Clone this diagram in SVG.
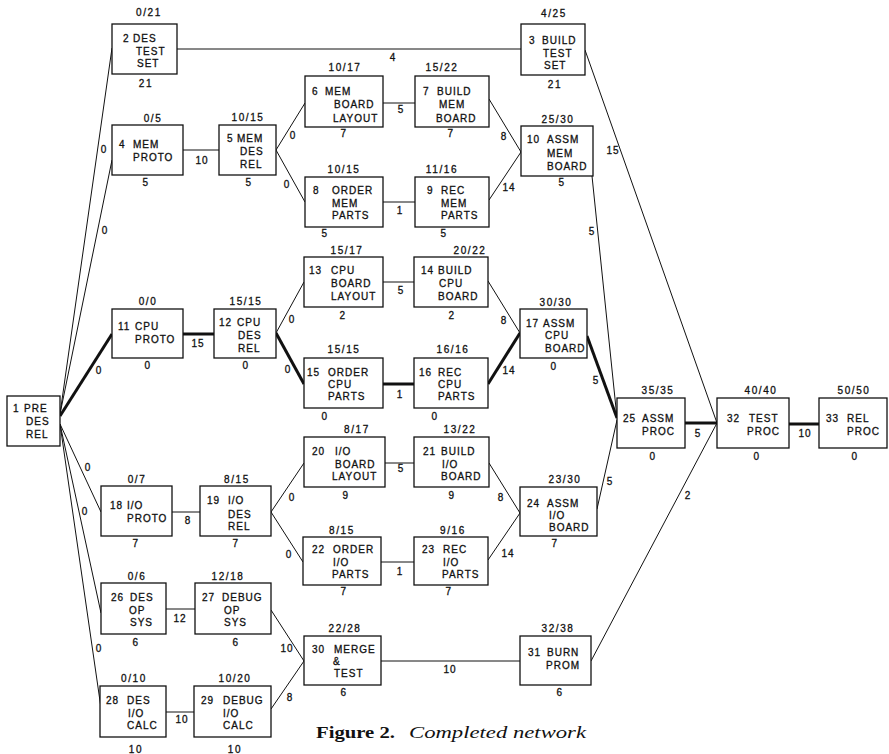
<svg xmlns="http://www.w3.org/2000/svg" width="889" height="754" viewBox="0 0 889 754">
  <style>
    .bg { fill: #ffffff; }
    .box rect { fill: #ffffff; stroke: #111; stroke-width: 1.3; }
    .t { font-family: "Liberation Sans", Arial, sans-serif; font-size: 10px; letter-spacing: 1px; fill: #111; stroke: #111; stroke-width: 0.3; }
    .n { font-family: "Liberation Sans", Arial, sans-serif; font-size: 10px; letter-spacing: 1.6px; fill: #111; stroke: #111; stroke-width: 0.3; text-anchor: middle; }
    .w { font-family: "Liberation Sans", Arial, sans-serif; font-size: 10px; letter-spacing: 1px; fill: #111; stroke: #111; stroke-width: 0.3; text-anchor: middle; }
    #connectors line { stroke: #111; stroke-width: 1; fill: none; }
    #connectors line.crit { stroke-width: 3; }
    .cap { font-family: "Liberation Serif", "Times New Roman", serif; font-size: 17px; fill: #111; }
  </style>
  <rect class="bg" x="0" y="0" width="889" height="754"/>

  <!-- activity links; heavy lines mark the critical path -->
  <g id="connectors">
    <line x1="60" y1="414" x2="112" y2="48"/>
    <line x1="60" y1="414" x2="112" y2="160"/>
    <line class="crit" x1="60" y1="416" x2="112" y2="334"/>
    <line x1="60" y1="424" x2="101" y2="512"/>
    <line x1="60" y1="424" x2="101" y2="613"/>
    <line x1="60" y1="424" x2="101" y2="708"/>
    <line x1="177" y1="49" x2="521" y2="49"/>
    <line x1="585" y1="50" x2="717" y2="423"/>
    <line x1="183" y1="150" x2="219" y2="150"/>
    <line x1="276" y1="150" x2="305" y2="103"/>
    <line x1="276" y1="150" x2="305" y2="202"/>
    <line x1="383" y1="103" x2="415" y2="103"/>
    <line x1="383" y1="202" x2="415" y2="202"/>
    <line x1="489" y1="99" x2="521" y2="152"/>
    <line x1="489" y1="200" x2="521" y2="152"/>
    <line x1="592" y1="176" x2="617" y2="418"/>
    <line class="crit" x1="183" y1="334" x2="214" y2="334"/>
    <line x1="276" y1="333" x2="304" y2="282"/>
    <line class="crit" x1="276" y1="333" x2="304" y2="384"/>
    <line x1="383" y1="282" x2="414" y2="282"/>
    <line class="crit" x1="383" y1="384" x2="414" y2="384"/>
    <line x1="488" y1="281" x2="520" y2="333"/>
    <line class="crit" x1="488" y1="384" x2="520" y2="333"/>
    <line class="crit" x1="587" y1="336" x2="617" y2="418"/>
    <line x1="597" y1="509" x2="617" y2="420"/>
    <line class="crit" x1="685" y1="423" x2="717" y2="423"/>
    <line class="crit" x1="789" y1="424" x2="819" y2="424"/>
    <line x1="591" y1="661" x2="717" y2="423"/>
    <line x1="172" y1="512" x2="200" y2="512"/>
    <line x1="271" y1="512" x2="304" y2="463"/>
    <line x1="271" y1="512" x2="303" y2="562"/>
    <line x1="385" y1="463" x2="414" y2="463"/>
    <line x1="489" y1="463" x2="520" y2="513"/>
    <line x1="488" y1="560" x2="520" y2="513"/>
    <line x1="381" y1="562" x2="414" y2="562"/>
    <line x1="166" y1="609" x2="195" y2="609"/>
    <line x1="166" y1="712" x2="194" y2="712"/>
    <line x1="271" y1="610" x2="304" y2="661"/>
    <line x1="271" y1="709" x2="304" y2="661"/>
    <line x1="381" y1="661" x2="520" y2="661"/>
  </g>

  <!-- durations on the links -->
  <g id="link-labels">
    <text class="w" x="104" y="153">0</text>
    <text class="w" x="105" y="234">0</text>
    <text class="w" x="99" y="374">0</text>
    <text class="w" x="88" y="471">0</text>
    <text class="w" x="85" y="515">0</text>
    <text class="w" x="99" y="652">0</text>
    <text class="w" x="393" y="61">4</text>
    <text class="w" x="613" y="154">15</text>
    <text class="w" x="202" y="164">10</text>
    <text class="w" x="293" y="139">0</text>
    <text class="w" x="287" y="188">0</text>
    <text class="w" x="401" y="113">5</text>
    <text class="w" x="400" y="214">1</text>
    <text class="w" x="504" y="140">8</text>
    <text class="w" x="509" y="191">14</text>
    <text class="w" x="592" y="235">5</text>
    <text class="w" x="198" y="347">15</text>
    <text class="w" x="292" y="323">0</text>
    <text class="w" x="288" y="373">0</text>
    <text class="w" x="401" y="294">5</text>
    <text class="w" x="400" y="398">1</text>
    <text class="w" x="504" y="324">8</text>
    <text class="w" x="509" y="374">14</text>
    <text class="w" x="596" y="384">5</text>
    <text class="w" x="610" y="485">5</text>
    <text class="w" x="698" y="437">5</text>
    <text class="w" x="805" y="437">10</text>
    <text class="w" x="688" y="499">2</text>
    <text class="w" x="188" y="524">8</text>
    <text class="w" x="292" y="501">0</text>
    <text class="w" x="289" y="558">0</text>
    <text class="w" x="401" y="472">5</text>
    <text class="w" x="501" y="501">8</text>
    <text class="w" x="508" y="557">14</text>
    <text class="w" x="400" y="575">1</text>
    <text class="w" x="180" y="622">12</text>
    <text class="w" x="182" y="723">10</text>
    <text class="w" x="287" y="652">10</text>
    <text class="w" x="290" y="701">8</text>
    <text class="w" x="450" y="673">10</text>
  </g>

  <!-- activities -->
  <g id="n1" class="box">
    <rect x="7" y="396" width="53" height="50"/>
    <text class="t"><tspan x="13" y="412">1</tspan><tspan x="24" y="412">PRE</tspan><tspan x="26" y="425">DES</tspan><tspan x="26" y="438">REL</tspan></text>
  </g>
  <g id="n2" class="box">
    <rect x="112" y="24" width="65" height="50"/>
    <text class="n" x="149" y="16">0/21</text>
    <text class="n" x="146" y="87">21</text>
    <text class="t"><tspan x="123" y="42">2</tspan><tspan x="133" y="42">DES</tspan><tspan x="136" y="54.5">TEST</tspan><tspan x="137" y="67">SET</tspan></text>
  </g>
  <g id="n3" class="box">
    <rect x="521" y="24" width="64" height="51"/>
    <text class="n" x="554" y="17">4/25</text>
    <text class="n" x="555" y="88">21</text>
    <text class="t"><tspan x="529" y="44">3</tspan><tspan x="542" y="44">BUILD</tspan><tspan x="543" y="56.5">TEST</tspan><tspan x="544" y="69">SET</tspan></text>
  </g>
  <g id="n4" class="box">
    <rect x="112" y="125" width="71" height="50"/>
    <text class="n" x="153" y="122">0/5</text>
    <text class="n" x="146" y="186">5</text>
    <text class="t"><tspan x="119" y="148">4</tspan><tspan x="133" y="148">MEM</tspan><tspan x="133" y="161">PROTO</tspan></text>
  </g>
  <g id="n5" class="box">
    <rect x="219" y="125" width="57" height="50"/>
    <text class="n" x="248" y="121">10/15</text>
    <text class="n" x="249" y="186">5</text>
    <text class="t"><tspan x="227" y="142">5</tspan><tspan x="237" y="142">MEM</tspan><tspan x="240" y="155">DES</tspan><tspan x="240" y="168">REL</tspan></text>
  </g>
  <g id="n6" class="box">
    <rect x="305" y="76" width="78" height="51"/>
    <text class="n" x="345" y="71">10/17</text>
    <text class="n" x="344" y="137">7</text>
    <text class="t"><tspan x="312" y="95">6</tspan><tspan x="325" y="95">MEM</tspan><tspan x="334" y="108">BOARD</tspan><tspan x="333" y="121.5">LAYOUT</tspan></text>
  </g>
  <g id="n7" class="box">
    <rect x="415" y="76" width="74" height="51"/>
    <text class="n" x="442" y="71">15/22</text>
    <text class="n" x="451" y="137">7</text>
    <text class="t"><tspan x="423" y="95">7</tspan><tspan x="437" y="95">BUILD</tspan><tspan x="439" y="108">MEM</tspan><tspan x="436" y="121.5">BOARD</tspan></text>
  </g>
  <g id="n8" class="box">
    <rect x="305" y="177" width="78" height="50"/>
    <text class="n" x="344" y="172.5">10/15</text>
    <text class="n" x="325" y="237">5</text>
    <text class="t"><tspan x="313" y="194">8</tspan><tspan x="332" y="194">ORDER</tspan><tspan x="332" y="206.5">MEM</tspan><tspan x="332" y="219">PARTS</tspan></text>
  </g>
  <g id="n9" class="box">
    <rect x="415" y="177" width="74" height="50"/>
    <text class="n" x="442" y="172.5">11/16</text>
    <text class="n" x="444" y="237">5</text>
    <text class="t"><tspan x="427" y="194">9</tspan><tspan x="441" y="194">REC</tspan><tspan x="441" y="206.5">MEM</tspan><tspan x="441" y="219">PARTS</tspan></text>
  </g>
  <g id="n10" class="box">
    <rect x="521" y="126" width="72" height="50"/>
    <text class="n" x="558" y="122.5">25/30</text>
    <text class="n" x="562" y="186">5</text>
    <text class="t"><tspan x="527" y="143">10</tspan><tspan x="547" y="143">ASSM</tspan><tspan x="547" y="156.5">MEM</tspan><tspan x="547" y="170">BOARD</tspan></text>
  </g>
  <g id="n11" class="box">
    <rect x="112" y="309" width="71" height="49"/>
    <text class="n" x="148" y="305">0/0</text>
    <text class="n" x="148" y="369">0</text>
    <text class="t"><tspan x="118" y="330">11</tspan><tspan x="135" y="330">CPU</tspan><tspan x="135" y="343">PROTO</tspan></text>
  </g>
  <g id="n12" class="box">
    <rect x="214" y="309" width="62" height="49"/>
    <text class="n" x="246" y="305">15/15</text>
    <text class="n" x="246" y="369">0</text>
    <text class="t"><tspan x="219" y="326">12</tspan><tspan x="237" y="326">CPU</tspan><tspan x="238" y="339">DES</tspan><tspan x="238" y="352">REL</tspan></text>
  </g>
  <g id="n13" class="box">
    <rect x="304" y="257" width="79" height="50"/>
    <text class="n" x="347" y="254">15/17</text>
    <text class="n" x="343" y="319">2</text>
    <text class="t"><tspan x="309" y="274">13</tspan><tspan x="331" y="274">CPU</tspan><tspan x="331" y="287">BOARD</tspan><tspan x="331" y="300">LAYOUT</tspan></text>
  </g>
  <g id="n14" class="box">
    <rect x="414" y="257" width="74" height="50"/>
    <text class="n" x="470" y="254">20/22</text>
    <text class="n" x="452" y="319">2</text>
    <text class="t"><tspan x="421" y="274">14</tspan><tspan x="438" y="274">BUILD</tspan><tspan x="439" y="287">CPU</tspan><tspan x="438" y="300">BOARD</tspan></text>
  </g>
  <g id="n15" class="box">
    <rect x="304" y="358" width="79" height="50"/>
    <text class="n" x="344" y="353">15/15</text>
    <text class="n" x="325" y="420">0</text>
    <text class="t"><tspan x="307" y="376">15</tspan><tspan x="328" y="376">ORDER</tspan><tspan x="328" y="388">CPU</tspan><tspan x="328" y="400">PARTS</tspan></text>
  </g>
  <g id="n16" class="box">
    <rect x="414" y="358" width="74" height="50"/>
    <text class="n" x="453" y="353">16/16</text>
    <text class="n" x="435" y="420">0</text>
    <text class="t"><tspan x="419" y="376">16</tspan><tspan x="438" y="376">REC</tspan><tspan x="438" y="388">CPU</tspan><tspan x="438" y="400">PARTS</tspan></text>
  </g>
  <g id="n17" class="box">
    <rect x="520" y="309" width="67" height="49"/>
    <text class="n" x="556" y="305.5">30/30</text>
    <text class="n" x="554" y="370">0</text>
    <text class="t"><tspan x="526" y="326.5">17</tspan><tspan x="543" y="326.5">ASSM</tspan><tspan x="545" y="338.5">CPU</tspan><tspan x="545" y="351.5">BOARD</tspan></text>
  </g>
  <g id="n18" class="box">
    <rect x="101" y="486" width="71" height="50"/>
    <text class="n" x="137" y="482.5">0/7</text>
    <text class="n" x="136" y="546.5">7</text>
    <text class="t"><tspan x="110" y="509">18</tspan><tspan x="127" y="509">I/O</tspan><tspan x="127" y="522">PROTO</tspan></text>
  </g>
  <g id="n19" class="box">
    <rect x="200" y="486" width="71" height="50"/>
    <text class="n" x="237" y="482.5">8/15</text>
    <text class="n" x="236" y="546.5">7</text>
    <text class="t"><tspan x="207" y="504">19</tspan><tspan x="228" y="504">I/O</tspan><tspan x="228" y="517.5">DES</tspan><tspan x="228" y="530">REL</tspan></text>
  </g>
  <g id="n20" class="box">
    <rect x="304" y="437" width="81" height="50"/>
    <text class="n" x="357" y="433">8/17</text>
    <text class="n" x="346" y="499">9</text>
    <text class="t"><tspan x="312" y="455">20</tspan><tspan x="335" y="455">I/O</tspan><tspan x="335" y="467.5">BOARD</tspan><tspan x="332" y="480">LAYOUT</tspan></text>
  </g>
  <g id="n21" class="box">
    <rect x="414" y="437" width="75" height="50"/>
    <text class="n" x="460" y="433">13/22</text>
    <text class="n" x="452" y="499">9</text>
    <text class="t"><tspan x="423" y="455">21</tspan><tspan x="441" y="455">BUILD</tspan><tspan x="442" y="467.5">I/O</tspan><tspan x="441" y="480">BOARD</tspan></text>
  </g>
  <g id="n22" class="box">
    <rect x="303" y="537" width="78" height="48"/>
    <text class="n" x="342" y="534">8/15</text>
    <text class="n" x="344" y="595">7</text>
    <text class="t"><tspan x="312" y="553">22</tspan><tspan x="333" y="553">ORDER</tspan><tspan x="333" y="565.5">I/O</tspan><tspan x="332" y="577.5">PARTS</tspan></text>
  </g>
  <g id="n23" class="box">
    <rect x="414" y="537" width="74" height="48"/>
    <text class="n" x="453" y="534">9/16</text>
    <text class="n" x="449" y="595">7</text>
    <text class="t"><tspan x="422" y="553">23</tspan><tspan x="443" y="553">REC</tspan><tspan x="443" y="565.5">I/O</tspan><tspan x="442" y="577.5">PARTS</tspan></text>
  </g>
  <g id="n24" class="box">
    <rect x="520" y="487" width="77" height="49"/>
    <text class="n" x="565" y="483">23/30</text>
    <text class="n" x="555" y="547">7</text>
    <text class="t"><tspan x="527" y="506.5">24</tspan><tspan x="547" y="506.5">ASSM</tspan><tspan x="549" y="518.5">I/O</tspan><tspan x="549" y="530.5">BOARD</tspan></text>
  </g>
  <g id="n25" class="box">
    <rect x="617" y="398" width="68" height="50"/>
    <text class="n" x="658" y="394">35/35</text>
    <text class="n" x="653" y="460">0</text>
    <text class="t"><tspan x="623" y="421.5">25</tspan><tspan x="642" y="421.5">ASSM</tspan><tspan x="642" y="435">PROC</tspan></text>
  </g>
  <g id="n26" class="box">
    <rect x="101" y="583" width="65" height="51"/>
    <text class="n" x="137" y="580">0/6</text>
    <text class="n" x="136" y="645.5">6</text>
    <text class="t"><tspan x="111" y="601">26</tspan><tspan x="130" y="601">DES</tspan><tspan x="129" y="614">OP</tspan><tspan x="130" y="626">SYS</tspan></text>
  </g>
  <g id="n27" class="box">
    <rect x="195" y="583" width="76" height="51"/>
    <text class="n" x="228" y="580">12/18</text>
    <text class="n" x="236" y="645.5">6</text>
    <text class="t"><tspan x="202" y="601">27</tspan><tspan x="222" y="601">DEBUG</tspan><tspan x="224" y="614">OP</tspan><tspan x="224" y="626">SYS</tspan></text>
  </g>
  <g id="n28" class="box">
    <rect x="100" y="686" width="66" height="51"/>
    <text class="n" x="134" y="682">0/10</text>
    <text class="n" x="136" y="753">10</text>
    <text class="t"><tspan x="106" y="704">28</tspan><tspan x="127" y="704">DES</tspan><tspan x="128" y="716.5">I/O</tspan><tspan x="127" y="729">CALC</tspan></text>
  </g>
  <g id="n29" class="box">
    <rect x="194" y="686" width="77" height="51"/>
    <text class="n" x="235" y="682">10/20</text>
    <text class="n" x="235" y="753">10</text>
    <text class="t"><tspan x="201" y="704">29</tspan><tspan x="223" y="704">DEBUG</tspan><tspan x="223" y="716.5">I/O</tspan><tspan x="223" y="729">CALC</tspan></text>
  </g>
  <g id="n30" class="box">
    <rect x="304" y="636" width="77" height="49"/>
    <text class="n" x="345" y="631.5">22/28</text>
    <text class="n" x="344" y="696">6</text>
    <text class="t"><tspan x="312" y="652.5">30</tspan><tspan x="334" y="652.5">MERGE</tspan><tspan x="333" y="664.5">&amp;</tspan><tspan x="334" y="676.5">TEST</tspan></text>
  </g>
  <g id="n31" class="box">
    <rect x="520" y="636" width="71" height="49"/>
    <text class="n" x="558" y="631.5">32/38</text>
    <text class="n" x="560" y="696">6</text>
    <text class="t"><tspan x="528" y="656">31</tspan><tspan x="547" y="656">BURN</tspan><tspan x="546" y="669">PROM</tspan></text>
  </g>
  <g id="n32" class="box">
    <rect x="717" y="398" width="72" height="50"/>
    <text class="n" x="761" y="394">40/40</text>
    <text class="n" x="757" y="460">0</text>
    <text class="t"><tspan x="727" y="421.5">32</tspan><tspan x="749" y="421.5">TEST</tspan><tspan x="747" y="435">PROC</tspan></text>
  </g>
  <g id="n33" class="box">
    <rect x="819" y="398" width="68" height="50"/>
    <text class="n" x="854" y="394">50/50</text>
    <text class="n" x="855" y="460">0</text>
    <text class="t"><tspan x="826" y="421.5">33</tspan><tspan x="847" y="421.5">REL</tspan><tspan x="847" y="435">PROC</tspan></text>
  </g>

  <!-- caption -->
  <g id="caption">
    <text class="cap" x="316" y="737.5" font-weight="bold" textLength="79" lengthAdjust="spacingAndGlyphs">Figure 2.</text>
    <text class="cap" x="409" y="737.5" font-style="italic" textLength="177" lengthAdjust="spacingAndGlyphs">Completed network</text>
  </g>
</svg>
